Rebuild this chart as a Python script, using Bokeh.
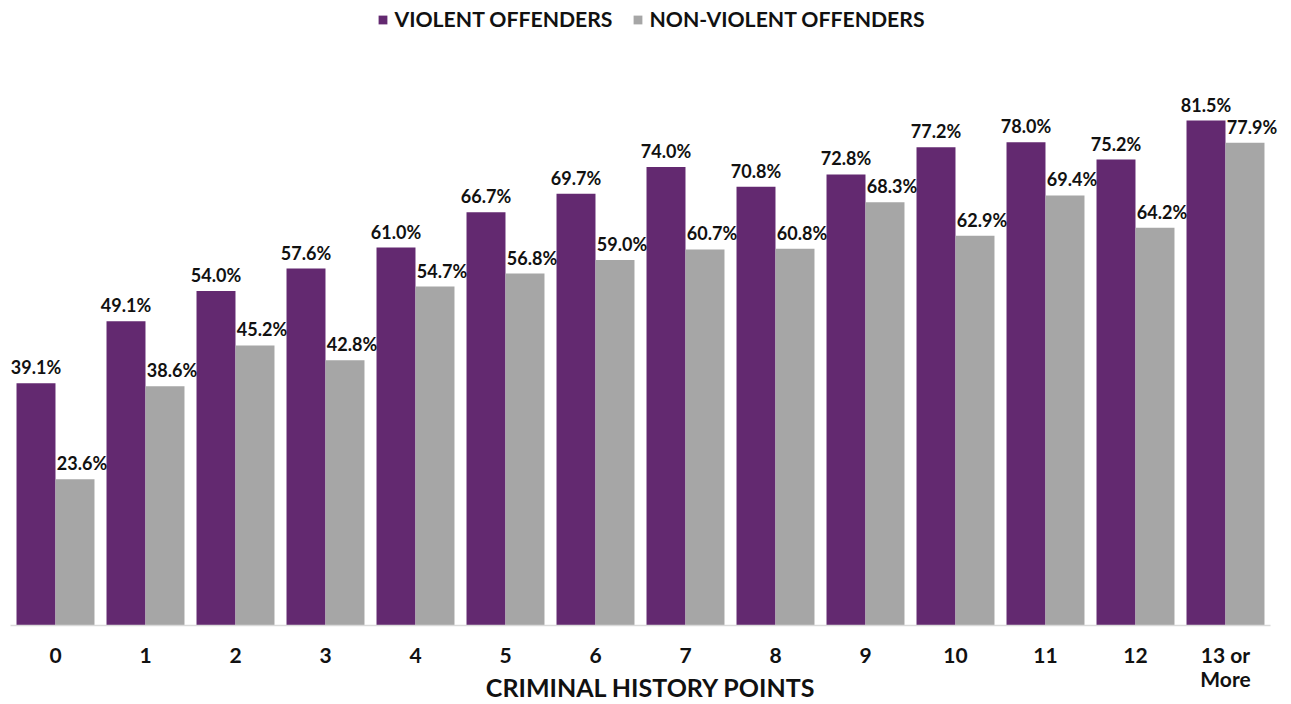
from bokeh.plotting import figure
from bokeh.models import ColumnDataSource, Range1d, Legend, LegendItem, FixedTicker
from bokeh.embed import file_html
from bokeh.resources import INLINE
from bokeh.core.properties import value

categories = ["0", "1", "2", "3", "4", "5", "6", "7", "8", "9", "10", "11", "12", "13 or\nMore"]
violent = [39.1, 49.1, 54.0, 57.6, 61.0, 66.7, 69.7, 74.0, 70.8, 72.8, 77.2, 78.0, 75.2, 81.5]
nonviolent = [23.6, 38.6, 45.2, 42.8, 54.7, 56.8, 59.0, 60.7, 60.8, 68.3, 62.9, 69.4, 64.2, 77.9]
series_names = ["VIOLENT OFFENDERS", "NON-VIOLENT OFFENDERS"]
x_title = "CRIMINAL HISTORY POINTS"

VIOLET = "#632970"
GREY = "#A6A6A6"
TEXT = "#111111"
FONT = "Lato"

idx = list(range(len(categories)))
off = 0.2167
bw = 0.433

src_v = ColumnDataSource(dict(x=[i - off for i in idx], top=violent,
                              lbl=[f"{v:.1f}%" for v in violent]))
src_n = ColumnDataSource(dict(x=[i + off for i in idx], top=nonviolent,
                              lbl=[f"{v:.1f}%" for v in nonviolent]))

p = figure(width=1291, height=704, output_backend="svg", toolbar_location=None,
           x_range=Range1d(-0.5, 13.5 + 21 / 90), y_range=Range1d(0, 100.87),
           min_border_left=10, min_border_right=0, min_border_top=0, min_border_bottom=79)
p.outline_line_color = None
p.xgrid.visible = False
p.ygrid.visible = False
p.yaxis.visible = False

rv = p.vbar(x="x", top="top", width=bw, source=src_v, fill_color=VIOLET, line_color=None)
rn = p.vbar(x="x", top="top", width=bw, source=src_n, fill_color=GREY, line_color=None)

p.text(x="x", y="top", text="lbl", source=src_v, text_font=value(FONT), text_font_style="bold",
       text_font_size="18px", text_color=TEXT, text_align="center", text_baseline="alphabetic",
       x_offset=0, y_offset=-16)
p.text(x="x", y="top", text="lbl", source=src_n, text_font=value(FONT), text_font_style="bold",
       text_font_size="18px", text_color=TEXT, text_align="center", text_baseline="alphabetic",
       x_offset=7, y_offset=-16)

ax = p.xaxis[0]
ax.ticker = FixedTicker(ticks=idx)
ax.bounds = (-0.5, 13.5)
ax.major_label_overrides = {i: c for i, c in zip(idx, categories)}
ax.major_tick_line_color = None
ax.minor_tick_line_color = None
ax.major_tick_out = 0
ax.major_tick_in = 0
ax.axis_line_color = "#D9D9D9"
ax.axis_line_width = 1.5
ax.major_label_standoff = 16
ax.major_label_text_font = FONT
ax.major_label_text_font_style = "bold"
ax.major_label_text_font_size = "21px"
ax.major_label_text_line_height = 0.96
ax.major_label_text_color = TEXT
ax.axis_label = x_title
ax.axis_label_standoff = -22
ax.axis_label_text_font = FONT
ax.axis_label_text_font_style = "bold"
ax.axis_label_text_font_size = "25px"
ax.axis_label_text_color = TEXT

legend = Legend(items=[LegendItem(label=series_names[0], renderers=[rv]),
                       LegendItem(label=series_names[1], renderers=[rn])],
                location="top_center", orientation="horizontal",
                label_text_font=FONT, label_text_font_style="bold", label_text_font_size="21.2px",
                label_text_color=TEXT, glyph_width=11, glyph_height=11, label_standoff=7,
                spacing=19, padding=0, margin=6, border_line_color=None, background_fill_alpha=0)
p.add_layout(legend)

open("out.html", "w").write(file_html(p, INLINE))
